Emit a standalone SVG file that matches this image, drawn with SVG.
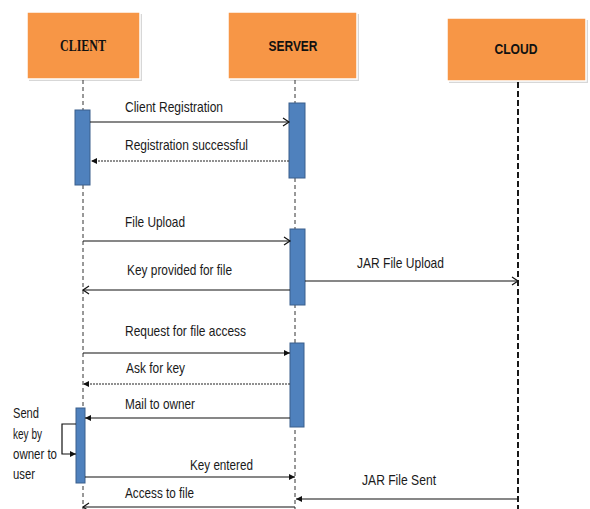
<svg xmlns="http://www.w3.org/2000/svg" width="590" height="509" viewBox="0 0 590 509">
<defs>
<style>
.box{fill:#F79646;stroke:#fff;stroke-width:1.5}
.shadow{fill:#9a9a9a;opacity:0.4}
.act{fill:#4F81BD;stroke:#3A5F8C;stroke-width:1}
.life{stroke:#333;stroke-width:1;stroke-dasharray:4 3;fill:none}
.lifeb{stroke:#000;stroke-width:1.8;stroke-dasharray:6 3;fill:none}
.msg{stroke:#111;stroke-width:1.2;fill:none}
.ret{stroke:#222;stroke-width:1.2;stroke-dasharray:2 1;fill:none}
.lbl{font-family:"Liberation Sans",Arial,sans-serif;font-size:15px;fill:#1a1a1a}
.hd{font-family:"Liberation Sans",Arial,sans-serif;font-size:15px;font-weight:bold;fill:#111}
.hds{font-family:"Liberation Serif","Times New Roman",serif;font-size:17px;font-weight:bold;fill:#111}
</style>
<marker id="open" markerWidth="10" markerHeight="10" refX="8" refY="5" orient="auto" markerUnits="userSpaceOnUse">
<path d="M2,1 L8,5 L2,9" fill="none" stroke="#111" stroke-width="1.2"/>
</marker>
<marker id="fill" markerWidth="8" markerHeight="8" refX="7" refY="4" orient="auto" markerUnits="userSpaceOnUse">
<path d="M1,1 L7,4 L1,7 Z" fill="#111"/>
</marker>
</defs>
<rect width="590" height="509" fill="#fff"/>

<g id="client">
<rect class="shadow" x="29" y="14" width="113" height="67"/>
<rect class="box" x="27" y="12" width="113" height="67"/>
<text class="hds" x="83" y="51" text-anchor="middle" textLength="46" lengthAdjust="spacingAndGlyphs">CLIENT</text>
</g>
<g id="server">
<rect class="shadow" x="230" y="14" width="129" height="67"/>
<rect class="box" x="228" y="12" width="129" height="67"/>
<text class="hd" x="293" y="51" text-anchor="middle" textLength="49" lengthAdjust="spacingAndGlyphs">SERVER</text>
</g>
<g id="cloud">
<rect class="shadow" x="449" y="20" width="139" height="63"/>
<rect class="box" x="447" y="18" width="139" height="63"/>
<text class="hd" x="516" y="54" text-anchor="middle" textLength="43" lengthAdjust="spacingAndGlyphs">CLOUD</text>
</g>

<g id="lifelines">
<line class="life" x1="83" y1="80" x2="83" y2="509"/>
<line class="life" x1="295" y1="80" x2="295" y2="509"/>
<line class="lifeb" x1="518" y1="82" x2="518" y2="509"/>
</g>

<g id="activations">
<rect id="client-act1" class="act" x="75" y="110" width="15" height="75"/>
<rect id="server-act1" class="act" x="289" y="103" width="16" height="75"/>
<rect id="server-act2" class="act" x="290" y="229" width="15" height="76"/>
<rect id="server-act3" class="act" x="290" y="343" width="14" height="84"/>
<rect id="client-act2" class="act" x="76" y="408" width="9" height="75"/>
</g>

<g id="connectors">
<line class="msg" x1="90" y1="122" x2="289" y2="122" marker-end="url(#open)"/>
<line class="ret" x1="289" y1="161" x2="91" y2="161" marker-end="url(#fill)"/>
<line class="msg" x1="83" y1="241" x2="290" y2="241" marker-end="url(#open)"/>
<line class="msg" x1="290" y1="290" x2="83" y2="290" marker-end="url(#open)"/>
<line class="msg" x1="305" y1="281" x2="518" y2="281" marker-end="url(#open)"/>
<line class="msg" x1="83" y1="353" x2="290" y2="353" marker-end="url(#fill)"/>
<line class="ret" x1="290" y1="384" x2="83" y2="384" marker-end="url(#fill)"/>
<line class="msg" x1="290" y1="418" x2="85" y2="418" marker-end="url(#fill)"/>
<path class="msg" d="M76,424 H62 V454 H76" marker-end="url(#fill)"/>
<line class="msg" x1="85" y1="477" x2="295" y2="477" marker-end="url(#fill)"/>
<line class="msg" x1="518" y1="499" x2="296" y2="499" marker-end="url(#fill)"/>
<line class="msg" x1="295" y1="507" x2="83" y2="507" marker-end="url(#open)"/>
</g>

<g id="labels">
<text class="lbl" x="125" y="112" textLength="98" lengthAdjust="spacingAndGlyphs">Client Registration</text>
<text class="lbl" x="125" y="150" textLength="123" lengthAdjust="spacingAndGlyphs">Registration successful</text>
<text class="lbl" x="125" y="227" textLength="60" lengthAdjust="spacingAndGlyphs">File Upload</text>
<text class="lbl" x="127" y="275" textLength="105" lengthAdjust="spacingAndGlyphs">Key provided for file</text>
<text class="lbl" x="357" y="268" textLength="87" lengthAdjust="spacingAndGlyphs">JAR File Upload</text>
<text class="lbl" x="125" y="336" textLength="121" lengthAdjust="spacingAndGlyphs">Request for file access</text>
<text class="lbl" x="126" y="373" textLength="59" lengthAdjust="spacingAndGlyphs">Ask for key</text>
<text class="lbl" x="125" y="409" textLength="70" lengthAdjust="spacingAndGlyphs">Mail to owner</text>
<text class="lbl" x="190" y="470" textLength="63" lengthAdjust="spacingAndGlyphs">Key entered</text>
<text class="lbl" x="125" y="498" textLength="69" lengthAdjust="spacingAndGlyphs">Access to file</text>
<text class="lbl" x="362" y="485" textLength="74" lengthAdjust="spacingAndGlyphs">JAR File Sent</text>
<text class="lbl" x="13" y="418" textLength="26" lengthAdjust="spacingAndGlyphs">Send</text>
<text class="lbl" x="13" y="439" textLength="29" lengthAdjust="spacingAndGlyphs">key by</text>
<text class="lbl" x="13" y="459" textLength="44" lengthAdjust="spacingAndGlyphs">owner to</text>
<text class="lbl" x="13" y="479" textLength="22" lengthAdjust="spacingAndGlyphs">user</text>
</g>
</svg>
